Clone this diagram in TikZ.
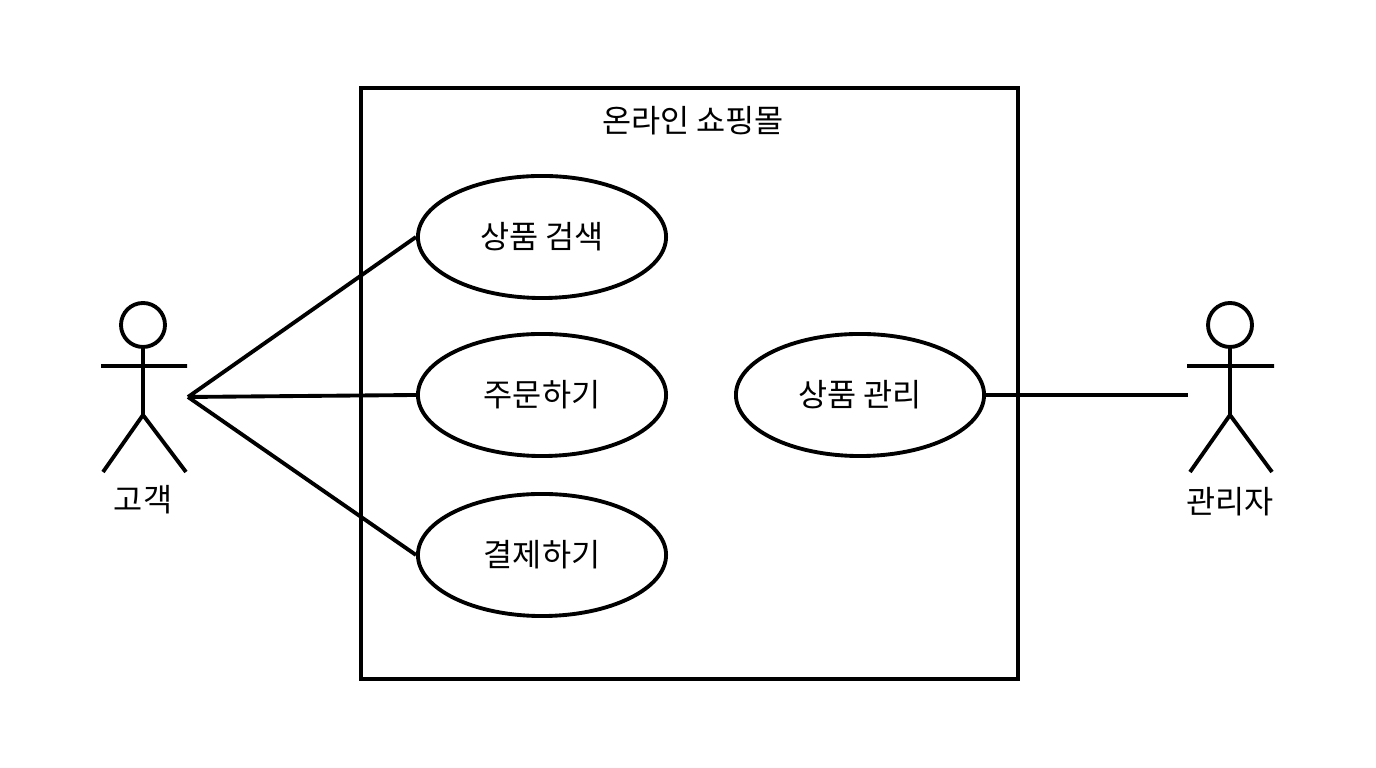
\documentclass[tikz,border=0pt]{standalone}
\usepackage{fontspec}
\setmainfont{Noto Sans CJK KR}
\usetikzlibrary{shapes.geometric}
\begin{document}
\begin{tikzpicture}[x=0.01cm,y=-0.01cm,line width=1.1pt,
  uc/.style={draw,ellipse,minimum width=248\pgflinewidth*0+2.48cm,minimum height=1.22cm,inner sep=0pt,font=\fontsize{9}{11}\selectfont},
  lbl/.style={font=\fontsize{9}{11}\selectfont,inner sep=0pt}]
\useasboundingbox (0,0) rectangle (1376,768);
\draw (361,88) rectangle (1018,679);
\node[lbl] (title) at (693,121) {온라인 쇼핑몰};
\node[uc] (s) at (542,237) {상품 검색};
\node[uc] (o) at (542,395) {주문하기};
\node[uc] (p) at (542,555) {결제하기};
\node[uc] (m) at (860,395) {상품 관리};
% customer
\draw (143,325) circle (22);
\draw (143,347) -- (143,415) (101,366) -- (187,366) (103,472) -- (143,415) -- (186,472);
\node[lbl] (c) at (143,500) {고객};
\coordinate (ca) at (188,397);
% admin
\draw (1230,325) circle (22);
\draw (1230,347) -- (1230,415) (1187,366) -- (1274,366) (1190,472) -- (1230,415) -- (1272,472);
\node[lbl] (a) at (1230,502) {관리자};
\coordinate (aa) at (1188,395);
\draw (ca) -- (s.west) (ca) -- (o.west) (ca) -- (p.west);
\draw (m.east) -- (aa);
\end{tikzpicture}
\end{document}
